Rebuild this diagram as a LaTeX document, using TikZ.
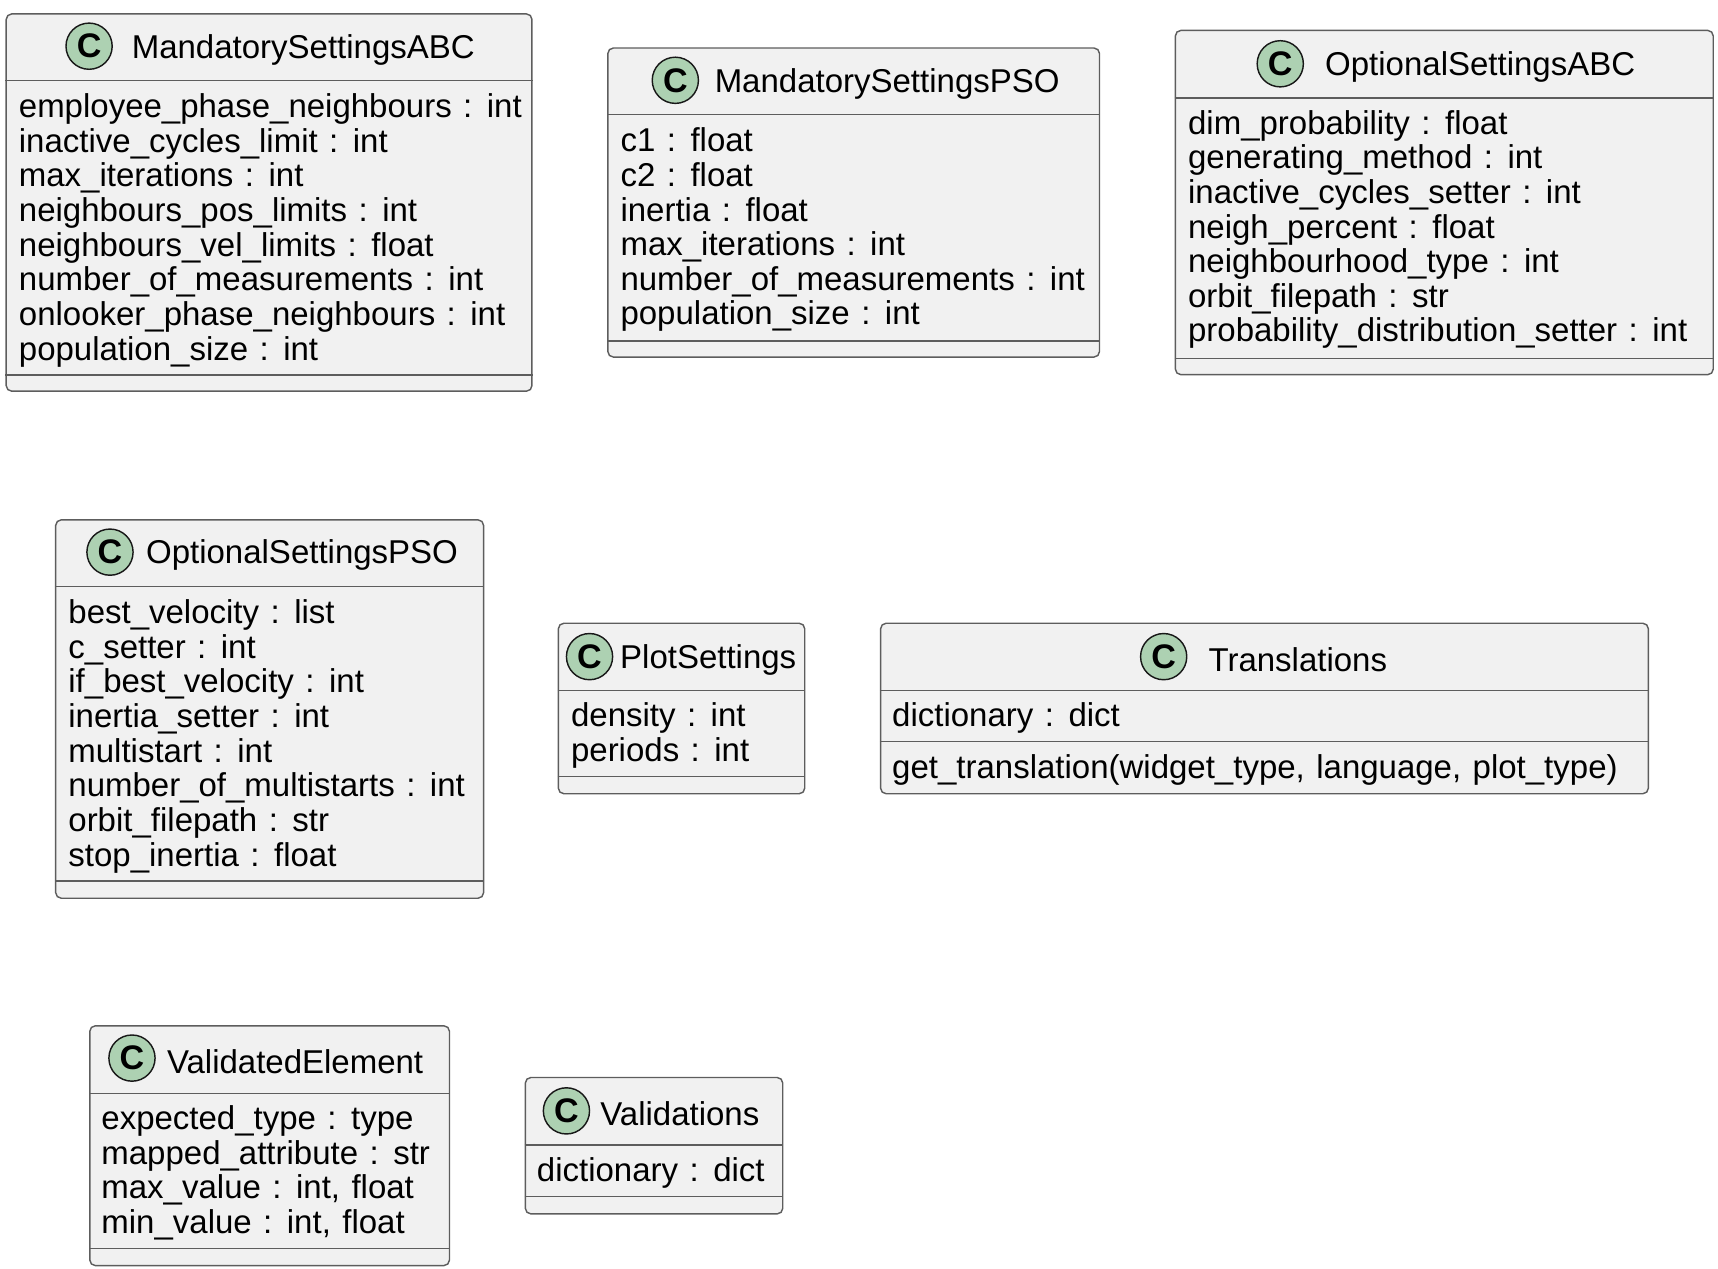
\documentclass[tikz,border=0pt]{standalone}
\usepackage{fontspec}
\setmainfont{Liberation Sans}[WordSpace=1.25]
\usetikzlibrary{positioning}

\definecolor{classfill}{HTML}{F1F1F1}
\definecolor{classline}{HTML}{181818}
\definecolor{spotfill}{HTML}{ADD1B2}

\tikzset{
  classbox/.style={draw=classline!70, fill=classfill, rounded corners=5pt, line width=1.3pt,
    anchor=north west, inner sep=0pt},
  spot/.style={circle, draw=classline, fill=spotfill, line width=1.3pt, minimum size=42pt,
    inner sep=0pt, font=\fontsize{31}{31}\selectfont\bfseries},
  classname/.style={inner sep=0pt, anchor=west, yshift=-3pt, font=\fontsize{30}{30}\selectfont},
  members/.style={inner sep=0pt, anchor=north west, align=left, font=\fontsize{30}{31.5}\selectfont},
  sep/.style={draw=classline!70, line width=1.3pt},
}

\begin{document}
\begin{tikzpicture}[x=1pt,y=-1pt]
  \useasboundingbox (0,0) rectangle (1562,1153);

  % MandatorySettingsABC
  \node[classbox, minimum width=478pt, minimum height=343pt] (msabc) at (5,12) {};
  \draw[sep] ([yshift=-61pt]msabc.north west) -- ([yshift=-61pt]msabc.north east);
  \draw[sep] ([yshift=-329pt]msabc.north west) -- ([yshift=-329pt]msabc.north east);
  \node[spot] (msabc-c) at (81,42) {C};
  \node[classname, right=17pt of msabc-c] (msabc-n) {MandatorySettingsABC};
  \node[members] (msabc-m) at (17,85) {employee\_phase\_neighbours : int\\
    inactive\_cycles\_limit : int\\
    max\_iterations : int\\
    neighbours\_pos\_limits : int\\
    neighbours\_vel\_limits : float\\
    number\_of\_measurements : int\\
    onlooker\_phase\_neighbours : int\\
    population\_size : int};

  % MandatorySettingsPSO
  \node[classbox, minimum width=447pt, minimum height=281pt] (mspso) at (552,43) {};
  \draw[sep] ([yshift=-61pt]mspso.north west) -- ([yshift=-61pt]mspso.north east);
  \draw[sep] ([yshift=-267pt]mspso.north west) -- ([yshift=-267pt]mspso.north east);
  \node[spot] (mspso-c) at (614,73) {C};
  \node[classname, right=14pt of mspso-c] (mspso-n) {MandatorySettingsPSO};
  \node[members] (mspso-m) at (564,116) {c1 : float\\
    c2 : float\\
    inertia : float\\
    max\_iterations : int\\
    number\_of\_measurements : int\\
    population\_size : int};

  % OptionalSettingsABC
  \node[classbox, minimum width=489pt, minimum height=313pt] (osabc) at (1068,27) {};
  \draw[sep] ([yshift=-62pt]osabc.north west) -- ([yshift=-62pt]osabc.north east);
  \draw[sep] ([yshift=-299pt]osabc.north west) -- ([yshift=-299pt]osabc.north east);
  \node[spot] (osabc-c) at (1164,58) {C};
  \node[classname, right=19pt of osabc-c] (osabc-n) {OptionalSettingsABC};
  \node[members] (osabc-m) at (1080,100) {dim\_probability : float\\
    generating\_method : int\\
    inactive\_cycles\_setter : int\\
    neigh\_percent : float\\
    neighbourhood\_type : int\\
    orbit\_filepath : str\\
    probability\_distribution\_setter : int};

  % OptionalSettingsPSO
  \node[classbox, minimum width=389pt, minimum height=344pt] (ospso) at (50,472) {};
  \draw[sep] ([yshift=-61pt]ospso.north west) -- ([yshift=-61pt]ospso.north east);
  \draw[sep] ([yshift=-329pt]ospso.north west) -- ([yshift=-329pt]ospso.north east);
  \node[spot] (ospso-c) at (100,502) {C};
  \node[classname, right=11pt of ospso-c] (ospso-n) {OptionalSettingsPSO};
  \node[members] (ospso-m) at (62,545) {best\_velocity : list\\
    c\_setter : int\\
    if\_best\_velocity : int\\
    inertia\_setter : int\\
    multistart : int\\
    number\_of\_multistarts : int\\
    orbit\_filepath : str\\
    stop\_inertia : float};

  % PlotSettings
  \node[classbox, minimum width=224pt, minimum height=155pt] (plot) at (507,566) {};
  \draw[sep] ([yshift=-62pt]plot.north west) -- ([yshift=-62pt]plot.north east);
  \draw[sep] ([yshift=-140pt]plot.north west) -- ([yshift=-140pt]plot.north east);
  \node[spot] (plot-c) at (536,597) {C};
  \node[classname, right=6pt of plot-c] (plot-n) {PlotSettings};
  \node[members] (plot-m) at (519,639) {density : int\\
    periods : int};

  % Translations
  \node[classbox, minimum width=698pt, minimum height=155pt] (trans) at (800,566) {};
  \draw[sep] ([yshift=-62pt]trans.north west) -- ([yshift=-62pt]trans.north east);
  \draw[sep] ([yshift=-108pt]trans.north west) -- ([yshift=-108pt]trans.north east);
  \node[spot] (trans-c) at (1058,597) {C};
  \node[classname, right=19pt of trans-c] (trans-n) {Translations};
  \node[members] (trans-m) at (811,639) {dictionary : dict};
  \node[members] (trans-f) at (811,686) {get\_translation(widget\_type, language, plot\_type)};

  % ValidatedElement
  \node[classbox, minimum width=327pt, minimum height=218pt] (velem) at (81,932) {};
  \draw[sep] ([yshift=-62pt]velem.north west) -- ([yshift=-62pt]velem.north east);
  \draw[sep] ([yshift=-203pt]velem.north west) -- ([yshift=-203pt]velem.north east);
  \node[spot] (velem-c) at (120,962) {C};
  \node[classname, right=10pt of velem-c] (velem-n) {ValidatedElement};
  \node[members] (velem-m) at (92,1005) {expected\_type : type\\
    mapped\_attribute : str\\
    max\_value : int, float\\
    min\_value : int, float};

  % Validations
  \node[classbox, minimum width=234pt, minimum height=124pt] (valid) at (477,979) {};
  \draw[sep] ([yshift=-62pt]valid.north west) -- ([yshift=-62pt]valid.north east);
  \draw[sep] ([yshift=-109pt]valid.north west) -- ([yshift=-109pt]valid.north east);
  \node[spot] (valid-c) at (515,1010) {C};
  \node[classname, right=9pt of valid-c] (valid-n) {Validations};
  \node[members] (valid-m) at (488,1052) {dictionary : dict};
\end{tikzpicture}
\end{document}
